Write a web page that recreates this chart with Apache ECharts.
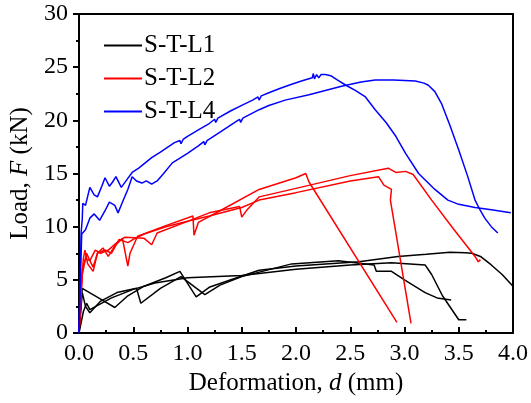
<!DOCTYPE html>
<html>
<head>
<meta charset="utf-8">
<script src="https://cdn.jsdelivr.net/npm/echarts@6/dist/echarts.min.js"></script>
<style>
  html, body { margin: 0; padding: 0; background: #fff; }
  #chart { width: 531px; height: 403px; }
</style>
</head>
<body>
<div id="chart"></div>
<script>
// Load–deformation curves, [deformation (mm), load (kN)] pairs per specimen.
const seriesNames = ['S-T-L1', 'S-T-L2', 'S-T-L4'];
const seriesColors = ['#000000', '#ff0000', '#0000ff'];

const xTicks = [0, 0.5, 1.0, 1.5, 2.0, 2.5, 3.0, 3.5, 4.0];
const yTicks = [0, 5, 10, 15, 20, 25, 30];

// S-T-L1 specimens
const l1a = [[0,0],[0.02,3],[0.03,4.2],[0.18,3.3],[0.33,2.4],[0.45,3.5],[0.6,4.4],[0.8,5.2],[0.93,5.8],[1.08,3.4],[1.2,4.3],[1.4,5.0],[1.66,5.9],[2.0,6.3],[2.58,6.7],[2.94,7.2],[3.2,7.4],[3.42,7.6],[3.56,7.55],[3.62,7.5],[3.70,7.2],[3.80,6.4],[3.9,5.5],[4.0,4.4]];
const l1b = [[0,0],[0.03,3.8],[0.06,2.5],[0.1,1.9],[0.2,3.0],[0.35,3.8],[0.53,4.2],[0.57,2.8],[0.75,4.2],[0.94,5.3],[1.16,3.6],[1.3,4.5],[1.5,5.3],[1.96,6.5],[2.39,6.8],[2.72,6.4],[2.74,5.8],[2.88,5.8],[3.0,5.0],[3.19,3.8],[3.3,3.3],[3.43,3.1]];
const l1c = [[0,0],[0.04,2.0],[0.07,2.8],[0.1,2.2],[0.3,3.3],[0.5,4.1],[0.7,4.7],[1.0,5.2],[1.5,5.4],[2.0,6.0],[2.5,6.4],[2.88,6.6],[3.19,6.4],[3.25,5.5],[3.35,3.5],[3.50,1.25],[3.57,1.25]];

// S-T-L2 specimens
const l2a = [[0,0],[0.02,4],[0.04,7.0],[0.055,7.8],[0.08,6.5],[0.13,5.8],[0.17,7.5],[0.22,8.0],[0.27,7.2],[0.33,8.2],[0.40,8.9],[0.45,6.3],[0.47,7.5],[0.54,9.1],[0.67,9.6],[0.8,10.1],[1.05,11.0],[1.06,9.2],[1.1,10.4],[1.3,11.5],[1.66,13.5],[2.0,14.6],[2.09,15.0],[2.12,14.2],[2.93,1.0]];
const l2b = [[0,0],[0.03,6],[0.06,7.0],[0.1,6.8],[0.15,7.8],[0.2,7.5],[0.27,7.8],[0.36,8.6],[0.42,9.0],[0.6,8.9],[0.67,8.3],[0.72,9.4],[1.0,10.5],[1.2,11.3],[1.48,11.9],[1.50,10.9],[1.55,11.6],[1.66,12.8],[2.0,13.6],[2.5,14.8],[2.85,15.5],[2.92,15.1],[3.01,15.2],[3.08,14.9],[3.25,12.5],[3.45,9.8],[3.65,7.2],[3.68,6.7],[3.70,6.9]];
const l2c = [[0,0],[0.03,5.5],[0.07,7.5],[0.1,6.8],[0.13,6.2],[0.17,7.5],[0.24,7.8],[0.3,7.5],[0.37,8.8],[0.45,8.5],[0.5,8.8],[0.6,9.3],[0.8,10.0],[1.0,10.5],[1.2,11.0],[1.5,11.8],[1.66,12.5],[2.0,13.2],[2.5,14.3],[2.76,14.7],[2.81,13.9],[2.88,13.5],[2.87,12.5],[3.06,0.9]];

// S-T-L4 specimens
const l4a = [[0,0],[0.01,5],[0.02,9.5],[0.03,10.7],[0.035,12.2],[0.06,12.0],[0.10,13.7],[0.14,13.0],[0.17,12.8],[0.21,13.8],[0.24,14.6],[0.28,13.8],[0.31,14.2],[0.34,14.7],[0.39,13.7],[0.44,14.4],[0.49,15.1],[0.55,15.5],[0.61,16.0],[0.67,16.5],[0.75,17.0],[0.88,17.9],[0.93,18.1],[0.94,17.8],[0.96,18.2],[1.0,18.5],[1.1,19.1],[1.2,19.7],[1.25,20.1],[1.26,19.8],[1.28,20.2],[1.4,20.9],[1.5,21.4],[1.6,21.9],[1.65,22.2],[1.66,21.9],[1.68,22.3],[1.75,22.6],[1.85,23.0],[1.96,23.4],[2.05,23.7],[2.15,24.0],[2.16,24.4],[2.17,23.9],[2.19,24.3],[2.21,24.0],[2.23,24.3],[2.27,24.3],[2.32,24.2],[2.38,23.8],[2.46,23.3],[2.55,22.8],[2.64,22.2],[2.73,21.0],[2.83,19.8],[2.92,18.5],[3.01,16.9],[3.13,15.0],[3.28,13.5],[3.40,12.5],[3.50,12.1],[3.65,11.8],[3.80,11.6],[3.98,11.3]];
const l4b = [[0,0],[0.015,6],[0.025,9.3],[0.06,9.7],[0.1,10.8],[0.14,11.2],[0.19,10.6],[0.24,11.5],[0.28,12.3],[0.33,12.0],[0.36,11.3],[0.40,12.3],[0.45,13.5],[0.49,14.7],[0.53,14.3],[0.58,14.1],[0.62,14.3],[0.67,14.0],[0.72,14.3],[0.78,15.0],[0.86,16.0],[1.0,16.9],[1.1,17.6],[1.15,18.0],[1.16,17.7],[1.18,18.1],[1.3,18.9],[1.45,19.9],[1.48,20.1],[1.49,19.8],[1.51,20.2],[1.66,21.0],[1.75,21.4],[1.9,21.9],[2.12,22.4],[2.42,23.2],[2.6,23.6],[2.73,23.8],[2.9,23.8],[3.10,23.7],[3.18,23.5],[3.22,23.3],[3.28,22.7],[3.34,21.6],[3.42,19.5],[3.50,17.2],[3.58,14.8],[3.65,12.5],[3.70,11.5],[3.74,10.8],[3.80,10.0],[3.86,9.4]];

const groups = [
  { name: seriesNames[0], color: seriesColors[0], curves: [l1a, l1b, l1c] },
  { name: seriesNames[1], color: seriesColors[1], curves: [l2a, l2b, l2c] },
  { name: seriesNames[2], color: seriesColors[2], curves: [l4a, l4b] }
];

const FONT = "'Liberation Serif', 'Times New Roman', serif";
const TICK_SIZE = 24;
const TITLE_SIZE = 25;

const series = [];
groups.forEach(g => {
  g.curves.forEach(c => {
    series.push({
      name: g.name,
      type: 'line',
      data: c,
      symbol: 'none',
      showSymbol: false,
      animation: false,
      lineStyle: { color: g.color, width: 1.5 },
      itemStyle: { color: g.color }
    });
  });
});

const titleRich = {
  n: { fontFamily: FONT, fontSize: TITLE_SIZE, color: '#000' },
  i: { fontFamily: FONT, fontSize: TITLE_SIZE, fontStyle: 'italic', color: '#000' }
};

const chart = echarts.init(document.getElementById('chart'), null, { renderer: 'canvas' });
chart.setOption({
  backgroundColor: '#ffffff',
  animation: false,
  grid: { left: 79, right: 16, top: 14, bottom: 70, containLabel: false },
  legend: {
    data: seriesNames.map(n => ({ name: n, icon: 'rect' })),
    orient: 'vertical',
    left: 99,
    top: 28,
    itemWidth: 38,
    itemHeight: 2,
    itemGap: 8,
    textStyle: { fontFamily: FONT, fontSize: 25, color: '#000', padding: [0, 0, 0, -3] }
  },
  xAxis: [{
    type: 'value',
    min: xTicks[0],
    max: xTicks[xTicks.length - 1],
    interval: 0.5,
    name: '{n|Deformation, }{i|d}{n| (mm)}',
    nameLocation: 'middle',
    nameGap: 38,
    nameTextStyle: { rich: titleRich },
    axisLine: { onZero: false, lineStyle: { color: '#000', width: 2 } },
    axisTick: { inside: true, length: 6, lineStyle: { color: '#000', width: 2 } },
    minorTick: { show: true, splitNumber: 2, length: 3, lineStyle: { color: '#000', width: 2 } },
    splitLine: { show: false },
    axisLabel: {
      margin: 9,
      fontFamily: FONT, fontSize: TICK_SIZE, color: '#000',
      formatter: v => v.toFixed(1)
    }
  }, {
    type: 'value', position: 'top', min: 0, max: 4,
    axisLine: { onZero: false, lineStyle: { color: '#000', width: 2 } },
    axisTick: { show: false }, axisLabel: { show: false }, splitLine: { show: false }
  }],
  yAxis: [{
    type: 'value',
    min: yTicks[0],
    max: yTicks[yTicks.length - 1],
    interval: 5,
    name: '{n|Load, }{i|F}{n| (kN)}',
    nameLocation: 'middle',
    nameGap: 43,
    nameRotate: 90,
    nameTextStyle: { rich: titleRich },
    axisLine: { onZero: false, lineStyle: { color: '#000', width: 2 } },
    axisTick: { inside: false, length: 6, lineStyle: { color: '#000', width: 2 } },
    minorTick: { show: true, splitNumber: 2, length: 3, lineStyle: { color: '#000', width: 2 } },
    splitLine: { show: false },
    axisLabel: { margin: 11, fontFamily: FONT, fontSize: TICK_SIZE, color: '#000' }
  }, {
    type: 'value', position: 'right', min: 0, max: 30,
    axisLine: { onZero: false, lineStyle: { color: '#000', width: 2 } },
    axisTick: { show: false }, axisLabel: { show: false }, splitLine: { show: false }
  }],
  series: series
});
</script>
</body>
</html>
